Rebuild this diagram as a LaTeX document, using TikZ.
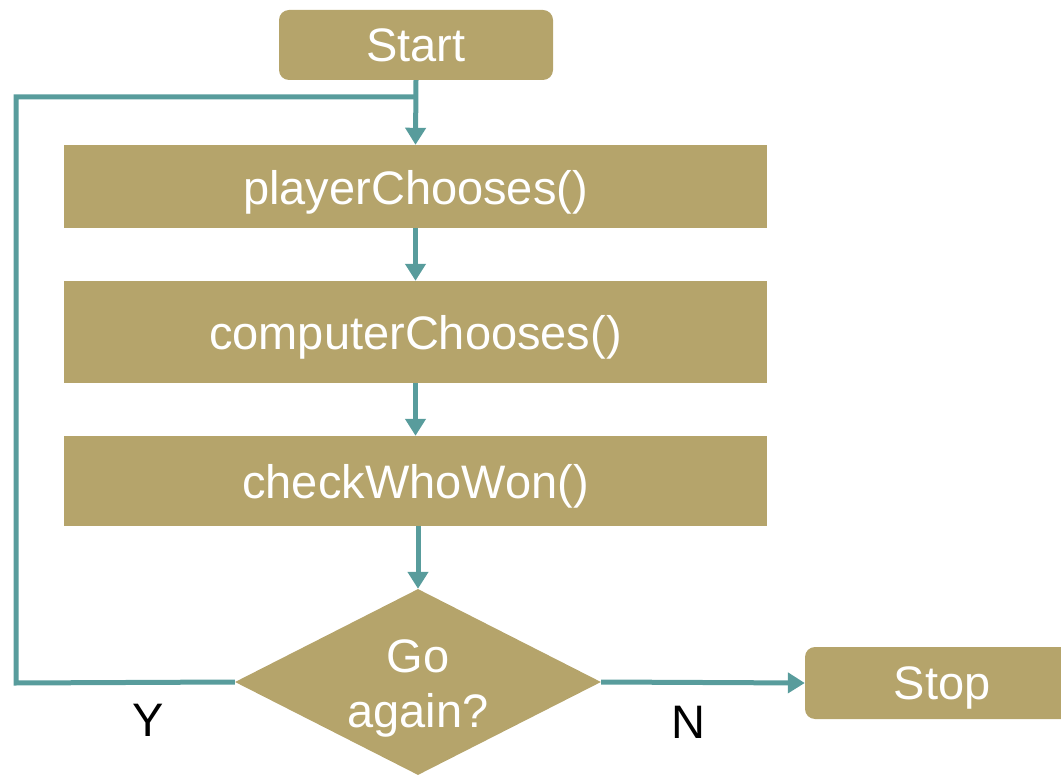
\documentclass[tikz,border=0pt]{standalone}
\usepackage{fontspec}
\setmainfont{Liberation Sans}
\usetikzlibrary{shapes.geometric,arrows.meta}
\definecolor{gold}{RGB}{181,164,107}
\definecolor{teal2}{RGB}{88,156,156}
\tikzset{
  lbl/.style={font=\fontsize{47}{55}\selectfont},
  term/.style={fill=gold, rounded corners=10pt, text=white, lbl, inner sep=0pt},
  proc/.style={fill=gold, text=white, lbl, inner sep=0pt, minimum width=703pt, text height=40pt, text depth=4pt},
  dia/.style={diamond, fill=gold, inner sep=0pt, minimum width=366pt, minimum height=186pt},
  dtext/.style={text=white, lbl, align=center, inner sep=0pt},
  conn/.style={draw=teal2, line width=5pt},
  arr/.style={conn, -{Triangle[width=20pt,length=17pt]}}
}
\begin{document}
\begin{tikzpicture}[x=1pt,y=-1pt]
\useasboundingbox (0,0) rectangle (1061,775);
\node[term, minimum width=274pt, minimum height=70pt] (start) at (416,45) {Start};
\node[proc, minimum height=83pt] (p1) at (415.5,186.5) {playerChooses()};
\node[proc, minimum height=102pt] (p2) at (415.5,332) {computerChooses()};
\node[proc, minimum height=90pt] (p3) at (415.5,481) {checkWhoWon()};
\node[dia] (d) at (418,682) {};
\node[dtext] (dt) at (418,688) {Go\\again?};
\node[term, minimum width=274pt, minimum height=72pt, text depth=0pt] (stop) at (942,683) {Stop};
\coordinate (bl) at (16,683);
\coordinate (tl) at (16,97);
\coordinate (j) at (416,97);
\coordinate (p3b) at (418,526);
\draw[arr] (start.south) -- (p1.north);
\draw[arr] (p1.south) -- (p2.north);
\draw[arr] (p2.south) -- (p3.north);
\draw[arr] (p3b) -- (d.north);
\draw[arr] (d.east) -- (stop.west);
\draw[conn] (d.west) -- (bl) -- (tl) -- (j);
\node[lbl] (y) at (148,720) {Y};
\node[lbl] (n) at (688,722) {N};
\end{tikzpicture}
\end{document}
